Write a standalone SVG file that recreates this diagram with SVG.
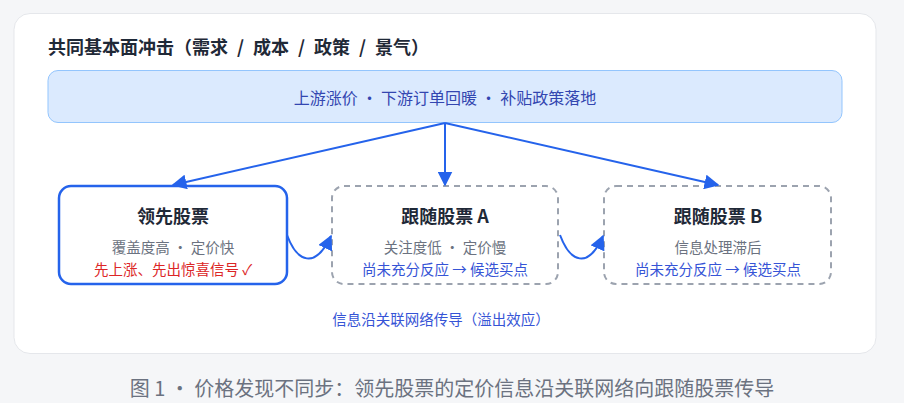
<svg xmlns="http://www.w3.org/2000/svg" width="904" height="403" viewBox="0 0 904 403">
<style>
text{font-family:"Noto Sans CJK SC","Noto Sans",sans-serif}
.ttl{font-size:18px;font-weight:700;fill:#1f2937;text-anchor:middle}
.sub{font-size:14.5px;fill:#6b7280;text-anchor:middle}
.blue{font-size:14.5px;fill:#3654d6;text-anchor:middle}
.red{font-size:14.5px;fill:#dc2626;text-anchor:middle}
.dash{fill:#fff;stroke:#9ca3af;stroke-width:2;stroke-dasharray:6 5}
.conn{fill:none;stroke:#2563eb;stroke-width:2;marker-end:url(#ah)}
</style>
<defs>
<marker id="ah" viewBox="0 0 10 10" refX="9" refY="5" markerWidth="7.5" markerHeight="7.5" orient="auto" markerUnits="strokeWidth"><path d="M0,0 L10,5 L0,10 z" fill="#2563eb"/></marker>
</defs>
<rect x="0" y="0" width="904" height="403" fill="#f5f6f8"/>
<rect x="14" y="13.5" width="862" height="340" rx="16" fill="#fff" stroke="#e5e7eb"/>
<text x="48" y="54" style="font-size:18px;font-weight:700;fill:#1f2937">共同基本面冲击（需求&#8194;/&#8194;成本&#8194;/&#8194;政策&#8194;/&#8194;景气）</text>
<g id="shock">
<rect x="48" y="70.5" width="794" height="52" rx="10" fill="#dbeafe" stroke="#93c5fd"/>
<text x="445" y="104" style="font-size:16px;fill:#3346b0;text-anchor:middle">上游涨价 · 下游订单回暖 · 补贴政策落地</text>
</g>
<g id="leader">
<rect x="59" y="186" width="228" height="98" rx="12" fill="#fff" stroke="#2563eb" stroke-width="2.5"/>
<text class="ttl" x="173" y="223">领先股票</text>
<text class="sub" x="173" y="253">覆盖度高 · 定价快</text>
<text class="red" x="173" y="275">先上涨、先出惊喜信号 ✓</text>
</g>
<g id="followerA">
<rect class="dash" x="332" y="186" width="226" height="98" rx="12"/>
<text class="ttl" x="445" y="223">跟随股票 A</text>
<text class="sub" x="445" y="253">关注度低 · 定价慢</text>
<text class="blue" x="445" y="275">尚未充分反应 → 候选买点</text>
</g>
<g id="followerB">
<rect class="dash" x="604" y="186" width="227" height="98" rx="12"/>
<text class="ttl" x="718" y="223">跟随股票 B</text>
<text class="sub" x="718" y="253">信息处理滞后</text>
<text class="blue" x="718" y="275">尚未充分反应 → 候选买点</text>
</g>
<g id="connectors">
<path class="conn" d="M445,123 L173,185"/>
<path class="conn" d="M445,123 L445,185"/>
<path class="conn" d="M445,123 L718,185"/>
<path class="conn" d="M287,235 C297,262 315,270 331,236"/>
<path class="conn" d="M560,235 C570,262 588,270 603,236"/>
</g>
<text class="blue" x="441" y="325">信息沿关联网络传导（溢出效应）</text>
<text x="452" y="396" style="font-size:20px;fill:#6b7280;text-anchor:middle">图 1 · 价格发现不同步：领先股票的定价信息沿关联网络向跟随股票传导</text>
</svg>
